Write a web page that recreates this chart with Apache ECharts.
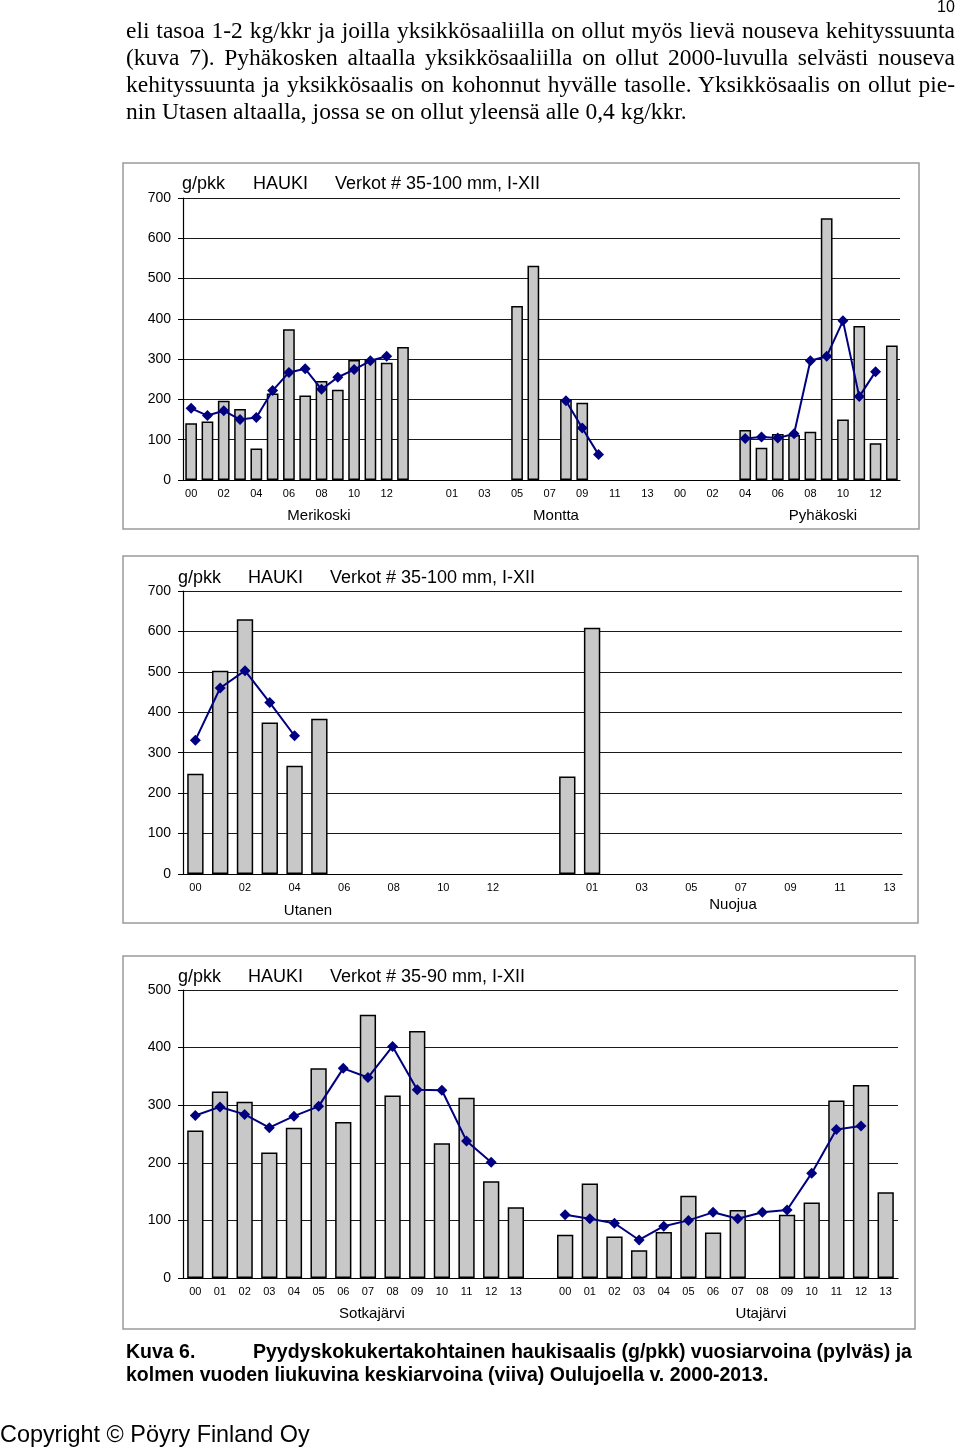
<!DOCTYPE html>
<html>
<head>
<meta charset="utf-8">
<script src="https://cdn.jsdelivr.net/npm/echarts@6/dist/echarts.min.js"></script>
<style>
  html, body { margin: 0; padding: 0; background: #fff; }
  #page { position: relative; width: 960px; height: 1451px; overflow: hidden; }
  #chart { position: absolute; left: 0; top: 0; width: 960px; height: 1451px; }
  .para { position: absolute; left: 126px; top: 17px; width: 829px; font-family: "Liberation Serif", "Times New Roman", serif; font-size: 23.5px; line-height: 27px; color: #000; }
  .para .j { text-align: justify; text-align-last: justify; white-space: nowrap; }
  .para .l { text-align: left; white-space: nowrap; }
  .pnum { position: absolute; left: 937px; top: -2px; font-family: "Liberation Sans", Arial, sans-serif; font-size: 16px; color: #000; }
  .cap { position: absolute; left: 126px; top: 1340px; font-family: "Liberation Sans", Arial, sans-serif; font-weight: bold; font-size: 19.5px; line-height: 23px; color: #000; white-space: nowrap; }
  .cap .k { display: inline-block; width: 127px; }
  .copy { position: absolute; left: 0px; top: 1421px; font-family: "Liberation Sans", Arial, sans-serif; font-size: 23.4px; color: #000; white-space: nowrap; }
</style>
</head>
<body>
<div id="page">
  <div id="chart"></div>
  <div class="pnum">10</div>
  <div class="para">
    <div class="j">eli tasoa 1-2 kg/kkr ja joilla yksikkösaaliilla on ollut myös lievä nouseva kehityssuunta</div>
    <div class="j">(kuva 7). Pyhäkosken altaalla yksikkösaaliilla on ollut 2000-luvulla selvästi nouseva</div>
    <div class="j">kehityssuunta ja yksikkösaalis on kohonnut hyvälle tasolle. Yksikkösaalis on ollut pie-</div>
    <div class="l">nin Utasen altaalla, jossa se on ollut yleensä alle 0,4 kg/kkr.</div>
  </div>
  <div class="cap">
    <div><span class="k">Kuva 6.</span>Pyydyskokukertakohtainen haukisaalis (g/pkk) vuosiarvoina (pylväs) ja</div>
    <div>kolmen vuoden liukuvina keskiarvoina (viiva) Oulujoella v. 2000-2013.</div>
  </div>
  <div class="copy">Copyright © Pöyry Finland Oy</div>
</div>
<script>
// ---------- DATA ----------
var years = ['00','01','02','03','04','05','06','07','08','09','10','11','12','13'];

// Chart 1: Merikoski, Montta, Pyhäkoski (g/pkk, nets 35-100 mm)
var merikoskiBar  = [141,145,197,176,78,215,374,210,246,224,298,300,291,330];
var merikoskiLine = [178,160,172,150,155,222,267,276,225,255,274,296,307,null];
var monttaBar     = [null,null,null,null,null,432,532,null,199,192,null,null,null,null];
var monttaLine    = [null,null,null,null,null,null,null,null,197,129,63,null,null,null];
var pyhakoskiBar  = [null,null,null,null,124,80,114,112,120,650,150,382,91,334];
var pyhakoskiLine = [null,null,null,null,103,107,104,115,296,307,395,207,269,null];

// Chart 2: Utanen, Nuojua (g/pkk, nets 35-100 mm)
var utanenBar  = [248,503,630,375,268,384,null,null,null,null,null,null,null,null];
var utanenLine = [331,460,503,424,342,null,null,null,null,null,null,null,null,null];
var nuojuaBar  = [241,609,null,null,null,null,null,null,null,null,null,null,null,null];
var nuojuaLine = [null,null,null,null,null,null,null,null,null,null,null,null,null,null];

// Chart 3: Sotkajärvi, Utajärvi (g/pkk, nets 35-90 mm)
var sotkaBar  = [256,324,306,218,261,364,271,457,317,429,234,313,168,123];
var sotkaLine = [282,297,284,261,281,298,364,348,402,327,326,238,201,null];
var utaBar    = [75,164,72,48,80,143,79,118,null,110,131,308,335,149];
var utaLine   = [110,103,95,66,90,100,114,103,114,118,182,258,264,null];

var title1 = 'Verkot # 35-100 mm, I-XII';
var title3 = 'Verkot # 35-90 mm, I-XII';

// ---------- helpers ----------
function joinGroups(groups) {
  var out = [];
  groups.forEach(function (g, i) {
    if (i > 0) out.push(null);
    out = out.concat(g);
  });
  return out;
}
function joinLabels(n) {
  var out = [];
  for (var i = 0; i < n; i++) {
    if (i > 0) out.push('');
    out = out.concat(years);
  }
  return out;
}

var cats1 = joinLabels(3);
var cats2 = joinLabels(2);
var cats3 = joinLabels(2);

var SANS = '"Liberation Sans", Arial, sans-serif';
var BAR_STYLE = { color: '#c8c8c8', borderColor: '#000', borderWidth: 1.5 };
var LINE_COLOR = '#000080';

function xAxis(gi, cats, interval) {
  return {
    type: 'category', gridIndex: gi, data: cats, boundaryGap: true,
    axisLine: { show: true, lineStyle: { color: '#000', width: 1.2 } },
    axisTick: { show: false },
    axisLabel: { interval: interval, fontSize: 11, color: '#000', margin: 8, fontFamily: SANS },
    splitLine: { show: false }
  };
}
function yAxis(gi, max) {
  return {
    type: 'value', gridIndex: gi, min: 0, max: max, interval: 100,
    axisLine: { show: true, lineStyle: { color: '#000', width: 1.2 } },
    axisTick: { show: true, length: 5, lineStyle: { color: '#000' } },
    axisLabel: { fontSize: 14, color: '#000', margin: 12, fontFamily: SANS },
    splitLine: { show: true, lineStyle: { color: '#1a1a1a', width: 1.2 } }
  };
}
function bar(ai, data, gap) {
  return { type: 'bar', xAxisIndex: ai, yAxisIndex: ai, data: data, barCategoryGap: gap,
           itemStyle: BAR_STYLE, z: 2, silent: true };
}
function line(ai, data) {
  return { type: 'line', xAxisIndex: ai, yAxisIndex: ai, data: data, connectNulls: false,
           symbol: 'diamond', symbolSize: 11, showSymbol: true, showAllSymbol: true,
           lineStyle: { color: LINE_COLOR, width: 2 },
           itemStyle: { color: LINE_COLOR }, z: 5, silent: true };
}
function txt(x, y, s, size, align) {
  return { type: 'text', silent: true, z: 10,
           style: { x: x, y: y, text: s, fontSize: size, fontFamily: SANS, fill: '#000',
                    align: align || 'left', verticalAlign: 'middle' } };
}
function frame(x, y, w, h) {
  return { type: 'rect', silent: true, shape: { x: x, y: y, width: w, height: h },
           style: { fill: 'none', stroke: '#9a9a9a', lineWidth: 1.5 }, z: 0 };
}

var chart = echarts.init(document.getElementById('chart'), null, { renderer: 'canvas' });

var option = {
  animation: false,
  backgroundColor: '#fff',
  grid: [
    { left: 183, top: 198, width: 717, height: 282 },
    { left: 183, top: 591, width: 719, height: 283 },
    { left: 183, top: 990, width: 715, height: 288 }
  ],
  xAxis: [ xAxis(0, cats1, 1), xAxis(1, cats2, 1), xAxis(2, cats3, 0) ],
  yAxis: [ yAxis(0, 700), yAxis(1, 700), yAxis(2, 500) ],
  series: [
    bar(0, joinGroups([merikoskiBar, monttaBar, pyhakoskiBar]), '28%'),
    line(0, joinGroups([merikoskiLine, monttaLine, pyhakoskiLine])),
    bar(1, joinGroups([utanenBar, nuojuaBar]), '34%'),
    line(1, joinGroups([utanenLine, nuojuaLine])),
    bar(2, joinGroups([sotkaBar, utaBar]), '34%'),
    line(2, joinGroups([sotkaLine, utaLine]))
  ],
  graphic: { elements: [
    frame(123, 163, 796, 366),
    frame(123, 556, 795, 367),
    frame(123, 956, 792, 373),
    // chart 1 texts
    txt(182, 184, 'g/pkk', 18), txt(253, 184, 'HAUKI', 18), txt(335, 184, title1, 18),
    txt(319, 516, 'Merikoski', 15, 'center'), txt(556, 516, 'Montta', 15, 'center'), txt(823, 516, 'Pyhäkoski', 15, 'center'),
    // chart 2 texts
    txt(178, 578, 'g/pkk', 18), txt(248, 578, 'HAUKI', 18), txt(330, 578, title1, 18),
    txt(308, 911, 'Utanen', 15, 'center'), txt(733, 905, 'Nuojua', 15, 'center'),
    // chart 3 texts
    txt(178, 977, 'g/pkk', 18), txt(248, 977, 'HAUKI', 18), txt(330, 977, title3, 18),
    txt(372, 1314, 'Sotkajärvi', 15, 'center'), txt(761, 1314, 'Utajärvi', 15, 'center')
  ]}
};
chart.setOption(option);
</script>
</body>
</html>
